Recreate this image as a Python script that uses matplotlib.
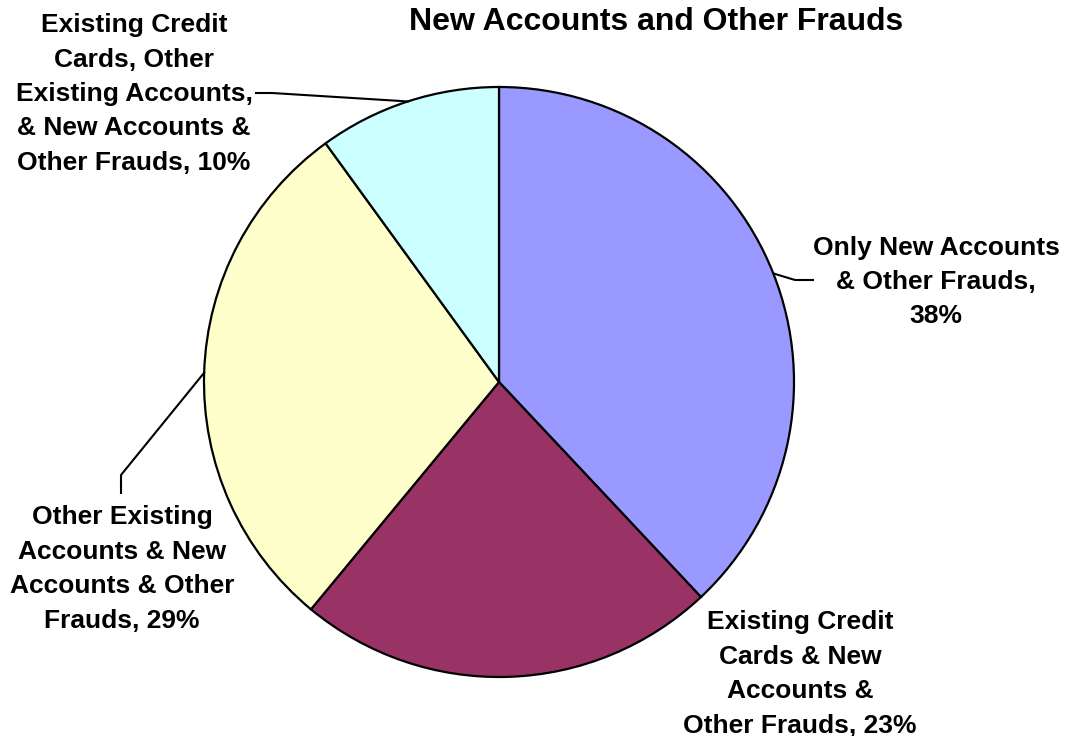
import numpy as np
import matplotlib.pyplot as plt

plt.rcParams['font.family'] = ['Liberation Sans', 'DejaVu Sans']

# Data
labels = ['Only New Accounts\n& Other Frauds,\n38%',
          'Existing Credit\nCards & New\nAccounts &\nOther Frauds, 23%',
          'Other Existing\nAccounts & New\nAccounts & Other\nFrauds, 29%',
          'Existing Credit\nCards, Other\nExisting Accounts,\n& New Accounts &\nOther Frauds, 10%']
values = [38, 23, 29, 10]
colors = ['#9999FF', '#993366', '#FFFFCC', '#CCFFFF']

# Layout (figure pixels, y measured from top)
W, H = 1074, 736
center = (499, 382)
radius = 295
label_pos = [(936, 282), (800, 674), (122, 569), (134, 94)]
# leader line bends (None = no leader line)
leader_bends = [[(795, 280), (813, 280)],
                None,
                [(121, 475), (121, 493)],
                [(272, 93), (256, 93)]]

fig = plt.figure(figsize=(W / 100, H / 100), dpi=100)
ax = fig.add_axes([0, 0, 1, 1])

cx, cy = center[0], H - center[1]
wedges, _ = ax.pie(values, colors=colors, startangle=90, counterclock=False,
                   center=(cx, cy), radius=radius, frame=True,
                   wedgeprops=dict(edgecolor='black', linewidth=1.6))
ax.set_xlim(0, W)
ax.set_ylim(0, H)
ax.axis('off')

for w, lab, (lx, ly), bends in zip(wedges, labels, label_pos, leader_bends):
    ax.text(lx, H - ly, lab, ha='center', va='center', fontsize=19,
            fontweight='bold', linespacing=1.55)
    if bends is None:
        continue
    mid = np.deg2rad((w.theta1 + w.theta2) / 2)
    xs = [cx + radius * np.cos(mid)] + [p[0] for p in bends]
    ys = [cy + radius * np.sin(mid)] + [H - p[1] for p in bends]
    ax.plot(xs, ys, color='black', linewidth=1.5)

ax.text(656, H - 22, 'New Accounts and Other Frauds', ha='center', va='center',
        fontsize=23, fontweight='bold')

plt.savefig('out.png', dpi=100)
